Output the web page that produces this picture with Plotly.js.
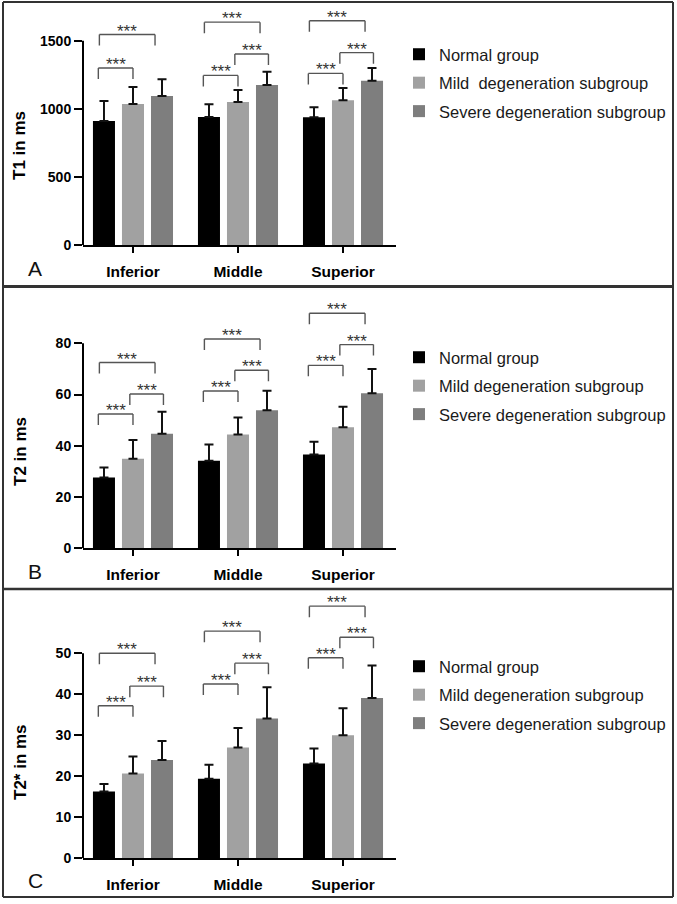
<!DOCTYPE html>
<html>
<head>
<meta charset="utf-8">
<script src="https://cdn.plot.ly/plotly-3.0.1.min.js"></script>
<style>
  body { margin: 0; background: #fff; }
  #myDiv { width: 677px; height: 904px; }
</style>
</head>
<body>
<div id="myDiv"></div>
<script>
// regions along the disc
var categories = ['Inferior', 'Middle', 'Superior'];
var groupNames = ['Normal group', 'Mild  degeneration subgroup', 'Severe degeneration subgroup'];
var groupNamesBC = ['Normal group', 'Mild degeneration subgroup', 'Severe degeneration subgroup'];

// T1 (ms): mean and SD
var t1Normal = [910, 940, 937];
var t1NormalSD = [147, 93, 74];
var t1Mild = [1035, 1050, 1062];
var t1MildSD = [125, 88, 91];
var t1Severe = [1094, 1175, 1206];
var t1SevereSD = [122, 97, 94];

// T2 (ms)
var t2Normal = [27.6, 34.2, 36.6];
var t2NormalSD = [3.9, 6.3, 5.0];
var t2Mild = [34.9, 44.4, 47.2];
var t2MildSD = [7.4, 6.6, 8.0];
var t2Severe = [44.7, 53.9, 60.5];
var t2SevereSD = [8.6, 7.6, 9.5];

// T2* (ms)
var t2sNormal = [16.3, 19.4, 23.1];
var t2sNormalSD = [1.8, 3.4, 3.7];
var t2sMild = [20.7, 27.0, 30.0];
var t2sMildSD = [4.1, 4.8, 6.6];
var t2sSevere = [24.0, 34.1, 39.1];
var t2sSevereSD = [4.6, 7.6, 7.9];

// bracket heights per region: [normal-mild, mild-severe, normal-severe]
var t1Brackets = [[1300, null, 1545], [1245, 1402, 1636], [1260, 1412, 1646]];
var t2Brackets = [[52.4, 60.2, 72.5], [61.4, 69.5, 81.7], [71.4, 79.5, 91.7]];
var t2sBrackets = [[37.2, 42.0, 50.0], [42.5, 47.6, 55.4], [48.9, 53.9, 61.5]];
var sigLabel = '***';

var barColors = ['#000000', '#a1a1a1', '#7e7e7e'];
var fontFam = 'Liberation Sans, Arial, Helvetica, sans-serif';
var H = 904;

function py(v) { return 1 - v / H; }

var panels = [
  {means: [t1Normal, t1Mild, t1Severe], sds: [t1NormalSD, t1MildSD, t1SevereSD], names: groupNames,
   brackets: t1Brackets, drop: 81, ytop: 1762, ydom: [py(245), py(5)], ticks: [0, 500, 1000, 1500],
   title: 'T1 in ms', titleY: 146, letter: 'A', letterY: 269, legendY: 37},
  {means: [t2Normal, t2Mild, t2Severe], sds: [t2NormalSD, t2MildSD, t2SevereSD], names: groupNamesBC,
   brackets: t2Brackets, drop: 4.3, ytop: 98.85, ydom: [py(548.3), py(295)], ticks: [0, 20, 40, 60, 80],
   title: 'T2 in ms', titleY: 452, letter: 'B', letterY: 571, legendY: 340},
  {means: [t2sNormal, t2sMild, t2sSevere], sds: [t2sNormalSD, t2sMildSD, t2sSevereSD], names: groupNamesBC,
   brackets: t2sBrackets, drop: 2.7, ytop: 64.46, ydom: [py(858.3), py(594)], ticks: [0, 10, 20, 30, 40, 50],
   title: 'T2* in ms', titleY: 762, letter: 'C', letterY: 880, legendY: 649}
];

// x offsets of bracket ends around the category centre
var bracketSpan = [[-0.33, 0], [-0.03, 0.29], [-0.32, 0.21]];

var data = [];
var shapes = [];
var annotations = [];
var layout = {
  width: 677,
  height: 904,
  margin: {l: 0, r: 0, t: 0, b: 0},
  paper_bgcolor: '#ffffff',
  plot_bgcolor: 'rgba(0,0,0,0)',
  barmode: 'group',
  bargap: 0.171,
  bargroupgap: 0.241,
  font: {family: fontFam, color: '#000'}
};

var xdom = [83 / 677, 395.5 / 677];

panels.forEach(function(p, k) {
  var n = k === 0 ? '' : String(k + 1);
  var xa = 'x' + n, ya = 'y' + n;
  var legendId = 'legend' + n;

  for (var g = 0; g < 3; g++) {
    data.push({
      type: 'bar',
      x: categories,
      y: p.means[g],
      name: p.names[g],
      xaxis: xa,
      yaxis: ya,
      legend: legendId,
      legendgroup: 'g' + k + '_' + g,
      marker: {color: barColors[g], line: {width: 0}},
      error_y: {type: 'data', symmetric: false, array: p.sds[g],
        arrayminus: p.sds[g].map(function() { return 0; }),
        color: '#111', thickness: 2, width: 4.5},
      hoverinfo: 'y+name'
    });
  }

  layout['xaxis' + n] = {
    domain: xdom, anchor: ya, type: 'category',
    range: [-0.476, 2.5],
    showline: true, linewidth: 2, linecolor: '#000',
    ticks: 'outside', ticklen: 6, tickwidth: 2, tickcolor: '#000',
    ticklabelstandoff: 5,
    tickfont: {family: fontFam, size: 15.5, weight: 'bold', color: '#000'},
    showgrid: false, zeroline: false, fixedrange: true
  };
  layout['yaxis' + n] = {
    domain: p.ydom, anchor: xa,
    range: [0, p.ytop],
    showline: false,
    tickmode: 'array', tickvals: p.ticks,
    ticks: 'outside', ticklen: 8, tickwidth: 2, tickcolor: '#000',
    tickfont: {family: fontFam, size: 14, weight: 'bold', color: '#000'},
    showgrid: false, zeroline: false, fixedrange: true
  };

  // y axis line stops at the last tick
  shapes.push({type: 'line', xref: 'paper', yref: ya, x0: xdom[0], x1: xdom[0],
    y0: 0, y1: p.ticks[p.ticks.length - 1], line: {color: '#000', width: 2}});

  // significance brackets
  p.brackets.forEach(function(row, c) {
    row.forEach(function(h, b) {
      if (h === null) return;
      var x0 = c + bracketSpan[b][0], x1 = c + bracketSpan[b][1];
      var ln = {color: '#555', width: 1.4};
      shapes.push({type: 'line', xref: xa, yref: ya, x0: x0, x1: x1, y0: h, y1: h, line: ln});
      shapes.push({type: 'line', xref: xa, yref: ya, x0: x0, x1: x0, y0: h, y1: h - p.drop, line: ln});
      shapes.push({type: 'line', xref: xa, yref: ya, x0: x1, x1: x1, y0: h, y1: h - p.drop, line: ln});
      annotations.push({xref: xa, yref: ya, x: (x0 + x1) / 2, y: h, text: sigLabel,
        showarrow: false, yanchor: 'middle', yshift: 3.5,
        font: {family: fontFam, size: 17, color: '#333'}});
    });
  });

  // y title
  annotations.push({xref: 'paper', yref: 'paper', x: 20 / 677, y: py(p.titleY), text: p.title,
    textangle: -90, showarrow: false, xanchor: 'center', yanchor: 'middle',
    font: {family: fontFam, size: 17, weight: 'bold', color: '#000'}});
  // panel letter
  annotations.push({xref: 'paper', yref: 'paper', x: 35 / 677, y: py(p.letterY), text: p.letter,
    showarrow: false, xanchor: 'center', yanchor: 'middle',
    font: {family: fontFam, size: 21, color: '#111'}});

  layout[legendId] = {
    x: 399 / 677, xanchor: 'left',
    y: py(p.legendY), yanchor: 'top',
    bgcolor: 'rgba(0,0,0,0)', borderwidth: 0,
    traceorder: 'grouped', tracegroupgap: 4,
    font: {family: fontFam, size: 16.5, color: '#1a1a1a'}
  };
});

// panel frames
var frameLine = {color: '#333', width: 2};
shapes.push({type: 'line', xref: 'paper', yref: 'paper', x0: 3 / 677, x1: 673 / 677, y0: py(2), y1: py(2), line: frameLine});
shapes.push({type: 'line', xref: 'paper', yref: 'paper', x0: 3 / 677, x1: 673 / 677, y0: py(897), y1: py(897), line: frameLine});
shapes.push({type: 'line', xref: 'paper', yref: 'paper', x0: 3 / 677, x1: 3 / 677, y0: py(2), y1: py(897), line: frameLine});
shapes.push({type: 'line', xref: 'paper', yref: 'paper', x0: 673 / 677, x1: 673 / 677, y0: py(2), y1: py(897), line: frameLine});
shapes.push({type: 'line', xref: 'paper', yref: 'paper', x0: 3 / 677, x1: 673 / 677, y0: py(286.5), y1: py(286.5), line: {color: '#333', width: 3}});
shapes.push({type: 'line', xref: 'paper', yref: 'paper', x0: 3 / 677, x1: 673 / 677, y0: py(589), y1: py(589), line: {color: '#333', width: 2.5}});

layout.shapes = shapes;
layout.annotations = annotations;

Plotly.newPlot('myDiv', data, layout, {displayModeBar: false, staticPlot: true});
</script>
</body>
</html>
